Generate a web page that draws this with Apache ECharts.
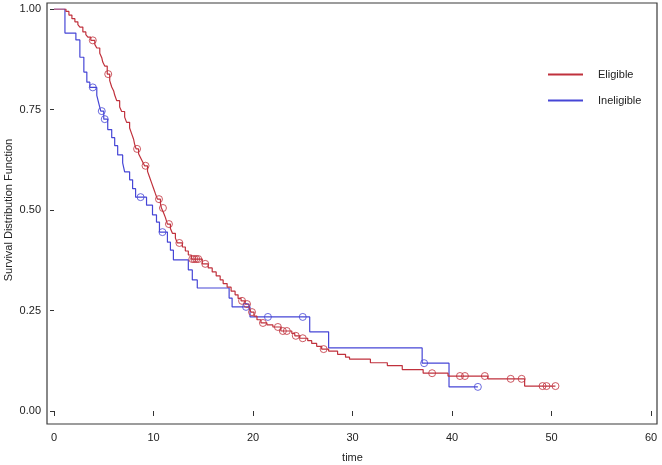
<!DOCTYPE html>
<html>
<head>
<meta charset="utf-8">
<script src="https://cdn.jsdelivr.net/npm/echarts@6/dist/echarts.min.js"></script>
<style>
html,body{margin:0;padding:0;background:#fff;}
#c{width:662px;height:465px;}
</style>
</head>
<body>
<div id="c"></div>
<script>
// ---- Data ----
var xTicks = [0, 10, 20, 30, 40, 50, 60];
var yTicks = [0, 0.25, 0.5, 0.75, 1];

// Eligible: event times and survival after each drop
var eligibleTime = [1.2,1.5,1.8,2.1,2.4,2.6,2.9,3.2,3.4,3.7,4.1,4.3,4.6,4.8,4.9,5.1,5.35,5.6,5.8,6.0,6.1,6.3,6.6,6.8,7.1,7.3,7.6,7.8,8.0,8.1,8.25,8.5,8.7,8.9,9.1,9.4,9.6,9.8,10.0,10.2,10.4,10.7,10.8,11.0,11.2,11.4,11.7,11.9,12.2,12.4,12.9,13.2,13.5,13.8,14.9,15.5,15.9,16.3,16.7,17.0,17.4,17.8,18.2,18.5,18.8,19.2,19.6,19.8,20.1,20.4,20.8,21.4,22.0,22.8,23.9,24.2,24.7,25.5,25.9,26.4,26.9,27.6,28.5,29.3,29.7,31.8,33.5,35.0,37.1,39.6,43.6,47.3];
var eligibleSurv = [0.994,0.985,0.976,0.968,0.961,0.955,0.943,0.936,0.930,0.922,0.912,0.903,0.890,0.879,0.868,0.858,0.838,0.822,0.806,0.796,0.786,0.772,0.756,0.745,0.731,0.718,0.704,0.690,0.676,0.664,0.652,0.640,0.630,0.620,0.610,0.596,0.582,0.568,0.554,0.540,0.527,0.515,0.505,0.494,0.481,0.465,0.454,0.442,0.430,0.418,0.408,0.398,0.388,0.378,0.366,0.356,0.346,0.336,0.326,0.317,0.308,0.298,0.289,0.280,0.274,0.266,0.256,0.246,0.236,0.227,0.219,0.214,0.209,0.199,0.193,0.187,0.181,0.175,0.168,0.161,0.154,0.149,0.141,0.134,0.129,0.120,0.113,0.103,0.094,0.087,0.080,0.062];
var eligibleCensor = [3.9,5.45,8.35,9.2,10.55,10.95,11.55,12.6,13.9,14.1,14.3,14.5,15.2,18.9,19.4,19.9,21.0,22.5,23.0,23.4,24.3,25.0,27.1,38.0,40.8,41.3,43.3,45.9,47.0,49.1,49.5,50.4];

// Ineligible
var ineligibleTime = [1.1,2.2,2.6,3.0,3.3,3.6,4.3,4.5,4.7,5.0,5.4,5.8,6.1,6.4,6.9,7.1,7.6,7.9,8.2,9.3,9.9,10.3,10.6,11.4,11.7,12.0,13.5,13.9,14.4,17.6,17.9,19.7,25.7,27.6,37.0,39.7];
var ineligibleSurv = [0.940,0.923,0.880,0.843,0.818,0.805,0.785,0.765,0.746,0.726,0.700,0.680,0.660,0.637,0.617,0.595,0.575,0.553,0.532,0.512,0.488,0.470,0.445,0.420,0.400,0.376,0.351,0.326,0.306,0.281,0.259,0.234,0.197,0.157,0.119,0.060];
var ineligibleCensor = [3.9,4.8,5.1,8.7,10.9,19.3,21.5,25.0,37.2,42.6];

var RED = '#c0313c', BLUE = '#4646d6';

function kmLine(times, surv, censors) {
  var pts = [[0, 1]];
  for (var i = 0; i < times.length; i++) pts.push([times[i], surv[i]]);
  var last = censors[censors.length - 1];
  if (last > times[times.length - 1]) pts.push([last, surv[surv.length - 1]]);
  return pts;
}
function survAt(times, surv, t) {
  var s = 1;
  for (var i = 0; i < times.length; i++) { if (times[i] <= t) s = surv[i]; }
  return s;
}
function censorPts(times, surv, censors) {
  return censors.map(function (t) { return [t, survAt(times, surv, t)]; });
}

var chart = echarts.init(document.getElementById('c'), null, {renderer: 'canvas'});
var FONT = 'Liberation Sans, Arial, sans-serif';
chart.setOption({
  animation: false,
  backgroundColor: '#fff',
  grid: [
    {left: 54, right: 11, top: 9, bottom: 54, containLabel: false, outerBoundsMode: 'none'},
    {left: 47, right: 5, top: 3, bottom: 41, containLabel: false, outerBoundsMode: 'none',
     show: true, borderColor: '#3a3a3a', borderWidth: 1.2, backgroundColor: 'transparent', z: 0}
  ],
  legend: {
    orient: 'vertical', left: 543, top: 64, itemWidth: 35, itemHeight: 2, itemGap: 15,
    icon: 'rect',
    data: ['Eligible', 'Ineligible'],
    textStyle: {fontFamily: FONT, fontSize: 11, color: '#222', padding: [0, 0, 0, 10]}
  },
  xAxis: [
    {gridIndex: 0, type: 'value', min: 0, max: 60, interval: 10, offset: 13,
     name: 'time', nameLocation: 'middle', nameGap: 28, nameMoveOverlap: false,
     nameTextStyle: {fontFamily: FONT, fontSize: 11, color: '#222'},
     axisLine: {show: false}, splitLine: {show: false},
     axisTick: {show: true, length: 5, lineStyle: {color: '#333'}},
     axisLabel: {fontFamily: FONT, fontSize: 11, color: '#222', margin: 8}},
    {gridIndex: 1, type: 'value', show: false, min: 0, max: 1}
  ],
  yAxis: [
    {gridIndex: 0, type: 'value', min: 0, max: 1, interval: 0.25, offset: 7,
     name: 'Survival Distribution Function', nameLocation: 'middle', nameGap: 33, nameRotate: 90,
     nameMoveOverlap: false,
     nameTextStyle: {fontFamily: FONT, fontSize: 11, color: '#222'},
     axisLine: {show: false}, splitLine: {show: false},
     axisTick: {show: true, length: 4, lineStyle: {color: '#333'}},
     axisLabel: {fontFamily: FONT, fontSize: 11, color: '#222', margin: 6,
       formatter: function (v) { return v.toFixed(2); }}},
    {gridIndex: 1, type: 'value', show: false, min: 0, max: 1}
  ],
  series: [
    {name: 'Eligible', type: 'line', step: 'end', symbol: 'none', xAxisIndex: 0, yAxisIndex: 0,
     data: kmLine(eligibleTime, eligibleSurv, eligibleCensor), lineStyle: {color: RED, width: 1.2}, itemStyle: {color: RED}, z: 3},
    {name: 'Ineligible', type: 'line', step: 'end', symbol: 'none', xAxisIndex: 0, yAxisIndex: 0,
     data: kmLine(ineligibleTime, ineligibleSurv, ineligibleCensor), lineStyle: {color: BLUE, width: 1.2}, itemStyle: {color: BLUE}, z: 2},
    {name: 'Eligible censored', type: 'scatter', symbol: 'circle', symbolSize: 7, xAxisIndex: 0, yAxisIndex: 0,
     data: censorPts(eligibleTime, eligibleSurv, eligibleCensor),
     itemStyle: {color: 'transparent', borderColor: RED, borderWidth: 1}, z: 4},
    {name: 'Ineligible censored', type: 'scatter', symbol: 'circle', symbolSize: 7, xAxisIndex: 0, yAxisIndex: 0,
     data: censorPts(ineligibleTime, ineligibleSurv, ineligibleCensor),
     itemStyle: {color: 'transparent', borderColor: BLUE, borderWidth: 1}, z: 4}
  ]
});
</script>
</body>
</html>
